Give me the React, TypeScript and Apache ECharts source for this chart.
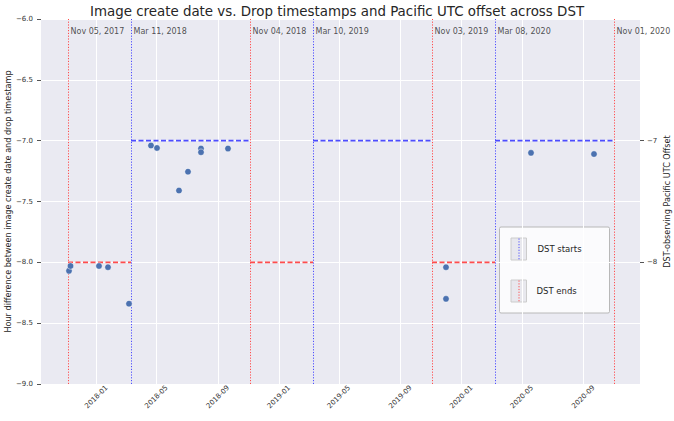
import React, { useEffect, useRef } from "react";
import * as echarts from "echarts";

const FONT = "DejaVu Sans";

const pointDates = [
  "2017-11-07", "2017-11-10", "2018-01-06", "2018-01-24", "2018-03-07",
  "2018-04-20", "2018-05-02", "2018-06-15", "2018-07-03", "2018-07-29",
  "2018-07-29", "2018-09-21", "2019-12-01", "2019-12-01", "2020-05-19",
  "2020-09-22",
];
const pointValues = [
  -8.07, -8.03, -8.03, -8.04, -8.34,
  -7.04, -7.06, -7.41, -7.255, -7.065,
  -7.095, -7.065, -8.04, -8.3, -7.1,
  -7.11,
];

const dstStarts = ["2018-03-11", "2019-03-10", "2020-03-08"];
const dstEnds = ["2017-11-05", "2018-11-04", "2019-11-03", "2020-11-01"];
const standardOffset = -8;
const dstOffset = -7;

const xMin = "2017-09-12";
const xMax = "2020-12-23";
const xTickMonths = [
  "2018-01-01", "2018-05-01", "2018-09-01", "2019-01-01", "2019-05-01",
  "2019-09-01", "2020-01-01", "2020-05-01", "2020-09-01",
];
const leftTicks = { min: -9, max: -6, interval: 0.5 };
const rightTickValues = [-8, -7];

const MONTHS = ["Jan", "Feb", "Mar", "Apr", "May", "Jun", "Jul", "Aug", "Sep", "Oct", "Nov", "Dec"];

function ts(s: string): number {
  const [y, m, d] = s.split("-").map(Number);
  return Date.UTC(y, m - 1, d);
}
function fmtLong(t: number): string {
  const d = new Date(t);
  const dd = String(d.getUTCDate()).padStart(2, "0");
  return `${MONTHS[d.getUTCMonth()]} ${dd}, ${d.getUTCFullYear()}`;
}
function fmtMonth(t: number): string {
  const d = new Date(t);
  return `${d.getUTCFullYear()}-${String(d.getUTCMonth() + 1).padStart(2, "0")}`;
}
const minus = (s: string) => s.replace("-", "\u2212");

const RED = "#FF4D4D";
const BLUE = "#4D4DFF";

export default function App() {
  const ref = useRef<HTMLDivElement>(null);
  useEffect(() => {
    if (!ref.current) return;
    const chart = echarts.init(ref.current, undefined, { renderer: "svg" });

    const segs: any[] = [];
    const transitions: { t: number; kind: "start" | "end" }[] = [
      ...dstStarts.map((s) => ({ t: ts(s), kind: "start" as const })),
      ...dstEnds.map((s) => ({ t: ts(s), kind: "end" as const })),
    ].sort((a, b) => a.t - b.t);
    for (let i = 0; i < transitions.length - 1; i++) {
      const a = transitions[i];
      const b = transitions[i + 1];
      const val = a.kind === "end" ? standardOffset : dstOffset;
      const color = a.kind === "end" ? RED : BLUE;
      segs.push({
        type: "line",
        yAxisIndex: 1,
        symbol: "none",
        silent: true,
        z: 3,
        data: [[a.t, val], [b.t, val]],
        lineStyle: { color, width: 1.7, type: [5, 2.5] },
      });
    }

    const vLines = transitions.map((tr) => ({
      xAxis: tr.t,
      lineStyle: {
        color: tr.kind === "end" ? RED : BLUE,
        width: 1,
        type: [1.2, 1.6],
      },
    }));

    const option: any = {
      animation: false,
      backgroundColor: "#ffffff",
      textStyle: { fontFamily: FONT },
      title: {
        text: "Image create date vs. Drop timestamps and Pacific UTC offset across DST",
        left: "center",
        top: 0,
        textStyle: { fontFamily: FONT, fontSize: 13.4, fontWeight: "normal", color: "#262626" },
      },
      grid: {
        left: 41,
        right: 34,
        top: 19,
        bottom: 37,
        show: true,
        backgroundColor: "#EAEAF2",
        borderWidth: 0,
        containLabel: false,
        outerBoundsMode: "none",
      },
      xAxis: {
        type: "value",
        min: ts(xMin),
        max: ts(xMax),
        axisLine: { show: false },
        axisTick: { show: false, customValues: xTickMonths.map(ts) },
        axisLabel: {
          customValues: xTickMonths.map(ts),
          formatter: (v: number) => fmtMonth(v),
          rotate: 45,
          align: "center",
          verticalAlign: "middle",
          margin: 13,
          fontFamily: FONT,
          fontSize: 7,
          color: "#333",
        },
        splitLine: { show: true, lineStyle: { color: "#ffffff", width: 1 } },
      },
      yAxis: [
        {
          type: "value",
          min: leftTicks.min,
          max: leftTicks.max,
          interval: leftTicks.interval,
          name: "Hour difference between image create date and drop timestamp",
          nameLocation: "middle",
          nameGap: 29,
          nameMoveOverlap: false,
          nameTextStyle: { fontFamily: FONT, fontSize: 8.1, color: "#262626" },
          axisLine: { show: false },
          axisTick: { show: true, length: 4, lineStyle: { color: "#555" } },
          axisLabel: {
            formatter: (v: number) => minus(v.toFixed(1)),
            fontFamily: FONT,
            fontSize: 7,
            color: "#333",
            margin: 8,
          },
          splitLine: { show: true, lineStyle: { color: "#ffffff", width: 1 } },
        },
        {
          type: "value",
          position: "right",
          min: leftTicks.min,
          max: leftTicks.max,
          interval: 1,
          name: "DST-observing Pacific UTC Offset",
          nameLocation: "middle",
          nameRotate: 90,
          nameGap: 23,
          nameMoveOverlap: false,
          nameTextStyle: { fontFamily: FONT, fontSize: 8.1, color: "#262626" },
          axisLine: { show: false },
          axisTick: { show: true, length: 4, customValues: rightTickValues, lineStyle: { color: "#555" } },
          axisLabel: {
            customValues: rightTickValues,
            formatter: (v: number) => minus(String(v)),
            fontFamily: FONT,
            fontSize: 7,
            color: "#333",
            margin: 7,
          },
          splitLine: { show: false },
        },
      ],
      series: [
        {
          type: "line",
          data: [],
          symbol: "none",
          silent: true,
          markLine: {
            silent: true,
            symbol: "none",
            label: { show: false },
            data: vLines,
            z: 2,
          },
        },
        ...segs,
        {
          type: "scatter",
          yAxisIndex: 0,
          symbolSize: 1,
          silent: true,
          itemStyle: { color: "rgba(0,0,0,0)" },
          z: 4,
          data: transitions.map((tr) => ({ value: [tr.t, -6.105], name: fmtLong(tr.t) })),
          label: {
            show: true,
            position: "right",
            distance: 2,
            formatter: (p: any) => p.name,
            fontFamily: FONT,
            fontSize: 8,
            color: "#262626",
          },
        },
        {
          type: "scatter",
          yAxisIndex: 0,
          symbolSize: 6.5,
          z: 5,
          itemStyle: { color: "#4C72B0", borderColor: "#ffffff", borderWidth: 0.5, opacity: 1 },
          data: pointDates.map((d, i) => [ts(d), pointValues[i]]),
        },
      ],
      graphic: [
        {
          type: "group",
          left: 499,
          top: 226.5,
          z: 100,
          children: [
            {
              type: "rect",
              shape: { x: 0, y: 0, width: 110, height: 86, r: 1.5 },
              style: { fill: "#FBFBFD", stroke: "#B8B8B8", lineWidth: 1 },
            },
            {
              type: "rect",
              shape: { x: 11.5, y: 11, width: 15.5, height: 22 },
              style: { fill: "#E8E8EE", stroke: "#CCCCCC", lineWidth: 1 },
            },
            {
              type: "line",
              shape: { x1: 19.5, y1: 11.5, x2: 19.5, y2: 32.5 },
              style: { stroke: BLUE, lineWidth: 1, lineDash: [1.2, 1.6] },
            },
            {
              type: "text",
              x: 38,
              y: 21.5,
              style: { text: "DST starts", fontFamily: FONT, fontSize: 8.5, fill: "#262626", verticalAlign: "middle" },
            },
            {
              type: "rect",
              shape: { x: 11.5, y: 53, width: 15.5, height: 22 },
              style: { fill: "#E8E8EE", stroke: "#CCCCCC", lineWidth: 1 },
            },
            {
              type: "line",
              shape: { x1: 19.5, y1: 53.5, x2: 19.5, y2: 74.5 },
              style: { stroke: RED, lineWidth: 1, lineDash: [1.2, 1.6] },
            },
            {
              type: "text",
              x: 37,
              y: 63.5,
              style: { text: "DST ends", fontFamily: FONT, fontSize: 8.5, fill: "#262626", verticalAlign: "middle" },
            },
          ],
        },
      ],
    };
    chart.setOption(option);
    return () => chart.dispose();
  }, []);
  return (
    <div
      ref={ref}
      style={{ position: "absolute", left: 0, top: 0, width: 674, height: 421 }}
    />
  );
}
